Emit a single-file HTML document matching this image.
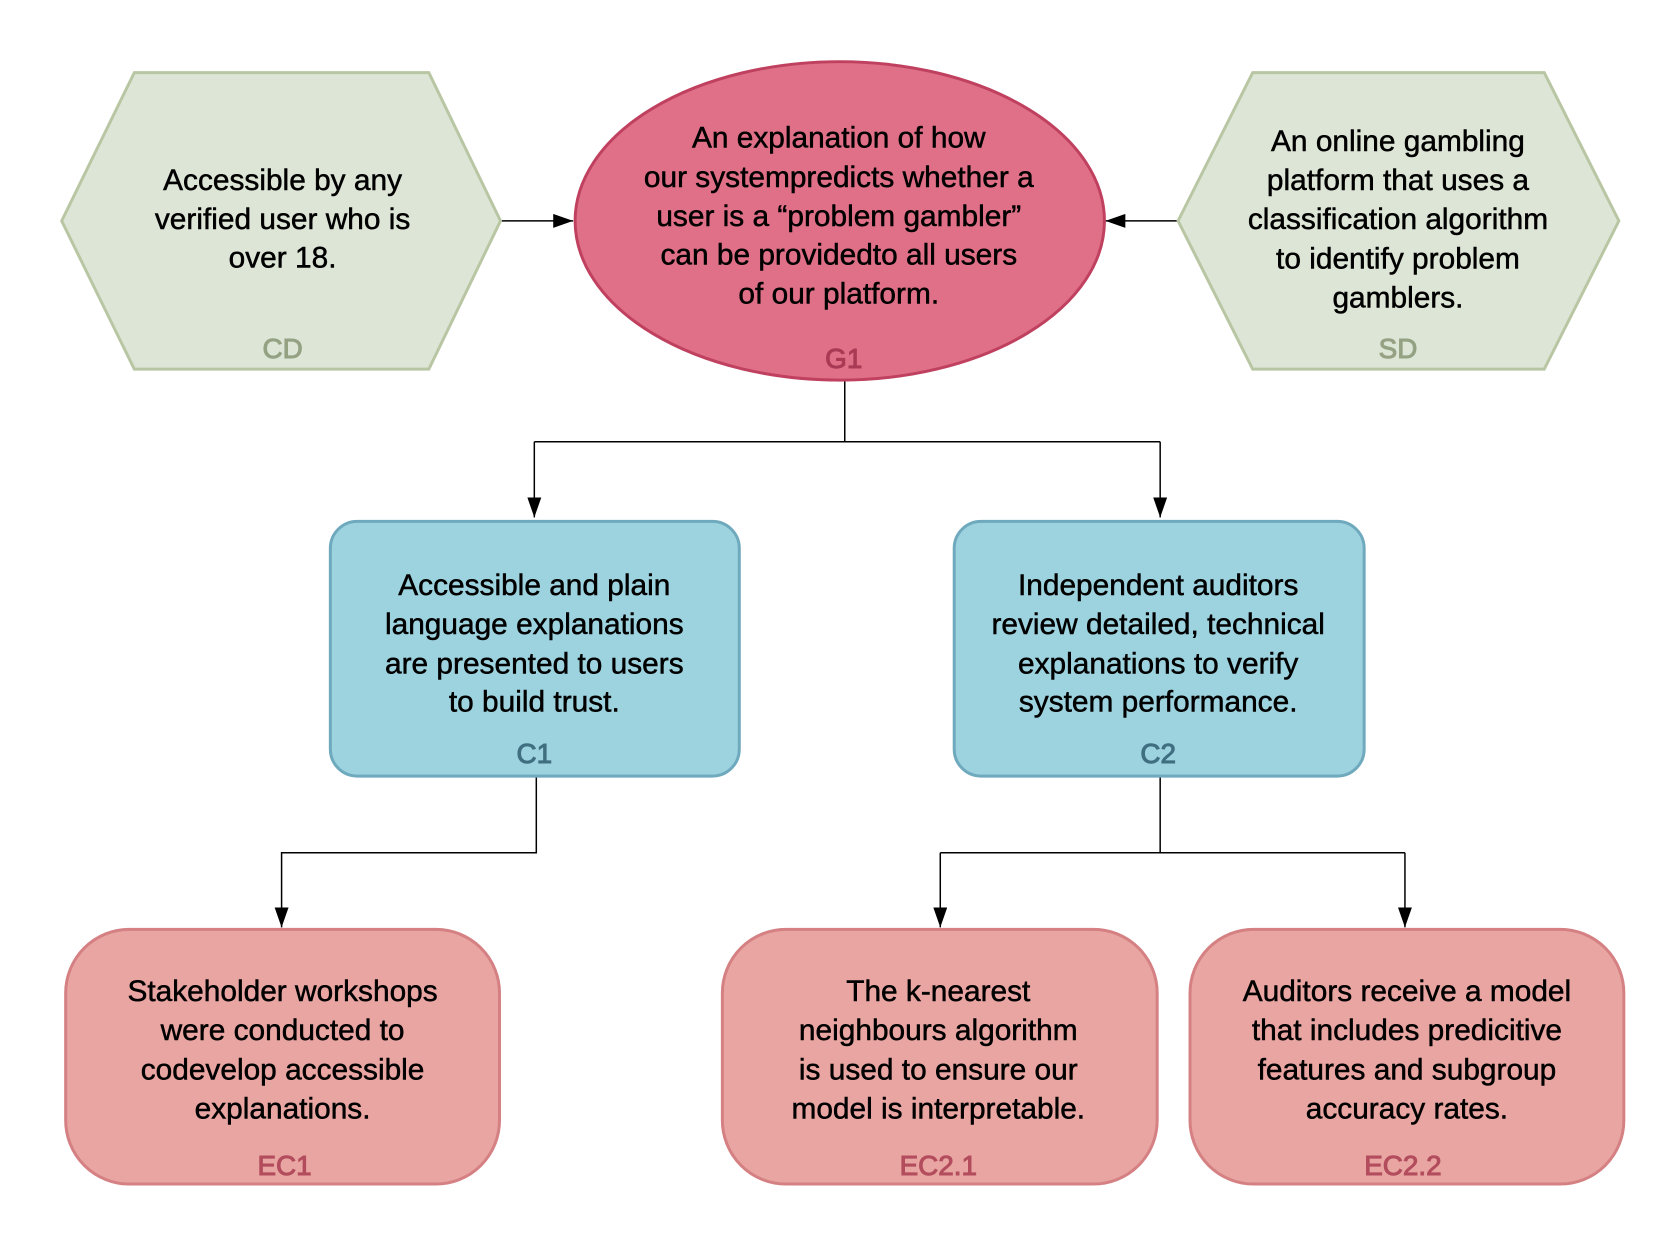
<!DOCTYPE html>
<html><head><meta charset="utf-8"><style>
html,body{margin:0;padding:0;background:#fff}
svg{display:block}
text{font-family:"Liberation Sans",sans-serif;font-size:30px;text-anchor:middle;fill:#000;stroke:#000;stroke-width:0.5}
.l{font-size:28px;stroke-width:1}
</style></head><body>
<svg width="1664" height="1254" viewBox="0 0 1664 1254" xmlns="http://www.w3.org/2000/svg">
<defs><marker id="d" markerWidth="22" markerHeight="14" refX="20" refY="7" orient="auto" markerUnits="userSpaceOnUse"><path d="M0,0 L20,7 L0,14 z" fill="#000"/></marker></defs>
<g transform="scale(0.995)">
<g stroke="#000" stroke-width="1.5" fill="none">
<path d="M503,222 H576" marker-end="url(#d)"/>
<path d="M1184,222 H1111" marker-end="url(#d)"/>
<path d="M849,382 V444 M537,444 H1166"/>
<path d="M537,444 V520" marker-end="url(#d)"/>
<path d="M1166,444 V520" marker-end="url(#d)"/>
<path d="M539,780 V857 H283 V932" marker-end="url(#d)"/>
<path d="M1166,780 V857 M945,857 H1412"/>
<path d="M945,857 V932" marker-end="url(#d)"/>
<path d="M1412,857 V932" marker-end="url(#d)"/>
</g>
<polygon points="62,222 135,73 431,73 503,222 431,371 135,371" fill="#dde5d6" stroke="#b9c6a4" stroke-width="3"/>
<text x="284" y="191">Accessible by any</text>
<text x="284" y="230">verified user who is</text>
<text x="284" y="269">over 18.</text>
<text x="284" y="360" class="l" style="fill:#94a283;stroke:#94a283">CD</text>
<polygon points="1184,222 1259,73 1552,73 1627,222 1552,371 1259,371" fill="#dde5d6" stroke="#b9c6a4" stroke-width="3"/>
<text x="1405" y="152">An online gambling</text>
<text x="1405" y="191">platform that uses a</text>
<text x="1405" y="230">classification algorithm</text>
<text x="1405" y="270">to identify problem</text>
<text x="1405" y="309">gamblers.</text>
<text x="1405" y="360" class="l" style="fill:#94a283;stroke:#94a283">SD</text>
<ellipse cx="844" cy="222" rx="266" ry="160" fill="#df7087" stroke="#c0415f" stroke-width="3"/>
<text x="843" y="148">An explanation of how</text>
<text x="843" y="188">our systempredicts whether a</text>
<text x="843" y="227">user is a “problem gambler”</text>
<text x="843" y="266">can be providedto all users</text>
<text x="843" y="305">of our platform.</text>
<text x="848" y="370" class="l" style="fill:#a83a55;stroke:#a83a55">G1</text>
<rect x="332" y="524" width="411" height="256" rx="27" fill="#9dd2df" stroke="#6ea9bd" stroke-width="3"/>
<text x="537" y="598">Accessible and plain</text>
<text x="537" y="637">language explanations</text>
<text x="537" y="677">are presented to users</text>
<text x="537" y="715">to build trust.</text>
<text x="537" y="767" class="l" style="fill:#3f6f80;stroke:#3f6f80">C1</text>
<rect x="959" y="524" width="412" height="256" rx="27" fill="#9dd2df" stroke="#6ea9bd" stroke-width="3"/>
<text x="1164" y="598">Independent auditors</text>
<text x="1164" y="637">review detailed, technical</text>
<text x="1164" y="677">explanations to verify</text>
<text x="1164" y="715">system performance.</text>
<text x="1164" y="767" class="l" style="fill:#3f6f80;stroke:#3f6f80">C2</text>
<rect x="66" y="934" width="436" height="256" rx="64" fill="#e8a5a2" stroke="#d58083" stroke-width="3"/>
<text x="284" y="1006">Stakeholder workshops</text>
<text x="284" y="1045">were conducted to</text>
<text x="284" y="1085">codevelop accessible</text>
<text x="284" y="1124">explanations.</text>
<text x="286" y="1181" class="l" style="fill:#b34c5c;stroke:#b34c5c">EC1</text>
<rect x="726" y="934" width="437" height="256" rx="64" fill="#e8a5a2" stroke="#d58083" stroke-width="3"/>
<text x="943" y="1006">The k-nearest</text>
<text x="943" y="1045">neighbours algorithm</text>
<text x="943" y="1085">is used to ensure our</text>
<text x="943" y="1124">model is interpretable.</text>
<text x="943" y="1181" class="l" style="fill:#b34c5c;stroke:#b34c5c">EC2.1</text>
<rect x="1196" y="934" width="436" height="256" rx="64" fill="#e8a5a2" stroke="#d58083" stroke-width="3"/>
<text x="1414" y="1006">Auditors receive a model</text>
<text x="1414" y="1045">that includes predicitive</text>
<text x="1414" y="1085">features and subgroup</text>
<text x="1414" y="1124">accuracy rates.</text>
<text x="1410" y="1181" class="l" style="fill:#b34c5c;stroke:#b34c5c">EC2.2</text>
</g>
</svg>
</body></html>
